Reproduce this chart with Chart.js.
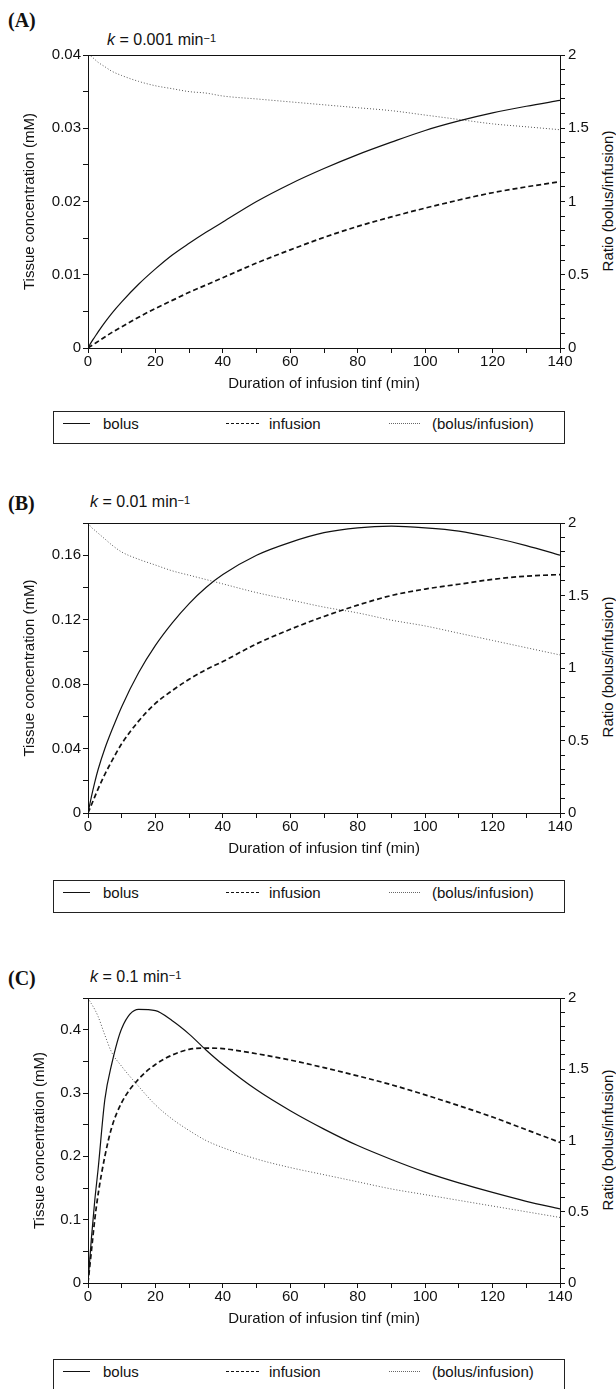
<!DOCTYPE html>
<html>
<head>
<meta charset="utf-8">
<script src="https://cdn.jsdelivr.net/npm/chart.js@4.4.1/dist/chart.umd.min.js"></script>
<style>
  body { margin: 0; background: #fff; }
  #page { position: relative; width: 616px; height: 1389px; overflow: hidden; font-family: "Liberation Sans", Arial, sans-serif; color: #111; }
  #page canvas { position: absolute; left: 0; }
  .tag { position: absolute; font-family: "Liberation Serif", serif; font-weight: bold; font-size: 20px; line-height: 20px; }
  .klabel { position: absolute; font-size: 16px; line-height: 18px; white-space: nowrap; }
  .klabel sup { font-size: 11px; position: relative; top: -2px; vertical-align: top; }
  .rtitle { position: absolute; font-size: 15px; white-space: nowrap; transform: translate(-50%, -50%) rotate(-90deg); }
  .legend { position: absolute; left: 53px; width: 512px; height: 33px; border: 1px solid #222; box-sizing: border-box; font-size: 15px; }
  .legend .s { position: absolute; top: 11px; height: 0; }
  .legend .t { position: absolute; top: 3px; line-height: 18px; }
</style>
</head>
<body>
<div id="page"></div>
<script>
// time axis (min) shared by all three panels
const timeMin = [0, 1, 2, 3, 5, 7, 10, 15, 20, 25, 30, 35, 40, 50, 60, 70, 80, 90, 100, 110, 120, 130, 140];

// (A) k = 0.001 min^-1
const bolusA    = [0, 0.0008, 0.0015, 0.0022, 0.0035, 0.0047, 0.0063, 0.0087, 0.0108, 0.0127, 0.0143, 0.0158, 0.0172, 0.0200, 0.0224, 0.0245, 0.0264, 0.0281, 0.0297, 0.0310, 0.0321, 0.0330, 0.0338];
const infusionA = [0, 0.0003, 0.0006, 0.0009, 0.0015, 0.0021, 0.0029, 0.0042, 0.0054, 0.0065, 0.0076, 0.0086, 0.0096, 0.0116, 0.0134, 0.0151, 0.0166, 0.0179, 0.0191, 0.0202, 0.0212, 0.0220, 0.0227];
const ratioA    = [2.0, 1.99, 1.97, 1.95, 1.92, 1.89, 1.86, 1.82, 1.79, 1.77, 1.75, 1.74, 1.72, 1.70, 1.68, 1.66, 1.64, 1.62, 1.59, 1.56, 1.53, 1.51, 1.49];

// (B) k = 0.01 min^-1
const bolusB    = [0, 0.010, 0.019, 0.027, 0.040, 0.051, 0.066, 0.087, 0.104, 0.118, 0.130, 0.140, 0.148, 0.160, 0.168, 0.174, 0.177, 0.178, 0.177, 0.175, 0.171, 0.166, 0.160];
const infusionB = [0, 0.005, 0.010, 0.015, 0.024, 0.032, 0.043, 0.057, 0.068, 0.076, 0.083, 0.089, 0.094, 0.105, 0.114, 0.122, 0.129, 0.135, 0.139, 0.142, 0.145, 0.147, 0.148];
const ratioB    = [2.0, 1.97, 1.95, 1.93, 1.89, 1.85, 1.80, 1.75, 1.71, 1.67, 1.64, 1.61, 1.58, 1.52, 1.47, 1.42, 1.38, 1.33, 1.29, 1.24, 1.19, 1.14, 1.09];

// (C) k = 0.1 min^-1
const bolusC    = [0, 0.07, 0.13, 0.18, 0.29, 0.345, 0.402, 0.432, 0.430, 0.414, 0.393, 0.368, 0.345, 0.305, 0.272, 0.243, 0.217, 0.195, 0.175, 0.158, 0.143, 0.129, 0.117];
const infusionC = [0, 0.05, 0.10, 0.14, 0.20, 0.245, 0.285, 0.322, 0.345, 0.360, 0.369, 0.371, 0.370, 0.362, 0.352, 0.340, 0.327, 0.313, 0.297, 0.280, 0.262, 0.242, 0.222];
const ratioC    = [2.0, 1.96, 1.92, 1.87, 1.74, 1.62, 1.52, 1.38, 1.25, 1.15, 1.07, 1.0, 0.95, 0.87, 0.81, 0.76, 0.71, 0.66, 0.62, 0.58, 0.54, 0.50, 0.46];

// tick labels
const timeTicks  = [0, 20, 40, 60, 80, 100, 120, 140];
const ratioTicks = [0, 0.5, 1, 1.5, 2];
const concTicksA = [0, 0.01, 0.02, 0.03, 0.04];
const concTicksB = [0, 0.04, 0.08, 0.12, 0.16];
const concTicksC = [0, 0.1, 0.2, 0.3, 0.4];

const panels = [
  { tag: '(A)', k: '0.001', bolus: bolusA, infusion: infusionA, ratio: ratioA, ticks: concTicksA, max: 0.04, step: 0.005,
    top: 53, bottom: 348, tagY: 10, kY: 31, kX: 107, legendY: 411, titlePad: 21 },
  { tag: '(B)', k: '0.01', bolus: bolusB, infusion: infusionB, ratio: ratioB, ticks: concTicksB, max: 0.18, step: 0.02,
    top: 521, bottom: 813, tagY: 493, kY: 493, kX: 90, legendY: 880, titlePad: 21 },
  { tag: '(C)', k: '0.1', bolus: bolusC, infusion: infusionC, ratio: ratioC, ticks: concTicksC, max: 0.45, step: 0.05,
    top: 996, bottom: 1283, tagY: 968, kY: 968, kX: 90, legendY: 1359, titlePad: 31 }
];

const PLOT_LEFT = 88, PLOT_RIGHT = 560, PAD_TOP = 10, X_AXIS_H = 52;
const ink = '#111';
const page = document.getElementById('page');

const frame = {
  id: 'frame',
  afterDatasetsDraw(chart) {
    const { ctx, chartArea: a } = chart;
    ctx.save();
    ctx.strokeStyle = ink;
    ctx.lineWidth = 1;
    ctx.strokeRect(Math.round(a.left) + 0.5, Math.round(a.top) + 0.5, Math.round(a.right - a.left), Math.round(a.bottom - a.top));
    ctx.restore();
  }
};

const pick = (list) => (v) => {
  const hit = list.find(t => Math.abs(t - v) < 1e-9);
  return hit === undefined ? '' : String(hit);
};
const pts = (ys) => timeMin.map((t, i) => ({ x: t, y: ys[i] }));

function addEl(cls, html, style) {
  const el = document.createElement('div');
  el.className = cls;
  el.innerHTML = html;
  Object.assign(el.style, style);
  page.appendChild(el);
  return el;
}

panels.forEach(p => {
  addEl('tag', p.tag, { left: '8px', top: p.tagY + 'px' });
  addEl('klabel', '<i>k</i> = ' + p.k + ' min<sup>\u22121</sup>', { left: p.kX + 'px', top: p.kY + 'px' });
  addEl('rtitle', 'Ratio (bolus/infusion)', { left: '607px', top: ((p.top + p.bottom) / 2) + 'px' });
  addEl('legend',
    '<div class="s" style="left:9px;width:27px;border-top:1px solid #111"></div><div class="t" style="left:49px">bolus</div>' +
    '<div class="s" style="left:172px;width:33px;border-top:1.5px dashed #111"></div><div class="t" style="left:215px">infusion</div>' +
    '<div class="s" style="left:335px;width:31px;border-top:1px dotted #666"></div><div class="t" style="left:378px">(bolus/infusion)</div>',
    { top: p.legendY + 'px' });

  const canvas = document.createElement('canvas');
  const h = (p.bottom - p.top) + PAD_TOP + X_AXIS_H;
  canvas.width = 616; canvas.height = h;
  canvas.style.top = (p.top - PAD_TOP) + 'px';
  canvas.style.width = '616px'; canvas.style.height = h + 'px';
  page.appendChild(canvas);

  const tickFont = { family: '"Liberation Sans", Arial, sans-serif', size: 15 };
  const grid = { drawOnChartArea: false, drawTicks: true, tickLength: 5, color: ink, lineWidth: 1 };

  new Chart(canvas, {
    type: 'line',
    data: {
      datasets: [
        { label: 'bolus', data: pts(p.bolus), yAxisID: 'y', borderColor: ink, borderWidth: 1.2,
          pointRadius: 0, cubicInterpolationMode: 'monotone' },
        { label: 'infusion', data: pts(p.infusion), yAxisID: 'y', borderColor: ink, borderWidth: 1.7,
          borderDash: [5, 3], pointRadius: 0, cubicInterpolationMode: 'monotone' },
        { label: '(bolus/infusion)', data: pts(p.ratio), yAxisID: 'y2', borderColor: '#555', borderWidth: 1,
          borderDash: [1, 2], pointRadius: 0, cubicInterpolationMode: 'monotone' }
      ]
    },
    options: {
      responsive: false, animation: false, events: [],
      layout: { padding: { top: PAD_TOP, left: 0, right: 0, bottom: 0 } },
      plugins: { legend: { display: false }, tooltip: { enabled: false } },
      scales: {
        x: {
          type: 'linear', min: 0, max: 140,
          afterFit: s => { s.height = X_AXIS_H; },
          ticks: { stepSize: 10, autoSkip: false, maxRotation: 0, padding: 0, color: ink, font: tickFont, callback: pick(timeTicks) },
          grid, border: { display: false },
          title: { display: true, text: 'Duration of infusion tinf (min)', color: ink, font: tickFont, padding: { top: 0, bottom: 7 } }
        },
        y: {
          position: 'left', min: 0, max: p.max,
          afterFit: s => { s.width = PLOT_LEFT; },
          ticks: { stepSize: p.step, autoSkip: false, padding: 2, color: ink, font: tickFont, callback: pick(p.ticks) },
          grid, border: { display: false },
          title: { display: true, text: 'Tissue concentration (mM)', color: ink, font: tickFont, padding: { top: p.titlePad, bottom: 0 } }
        },
        y2: {
          position: 'right', min: 0, max: 2,
          afterFit: s => { s.width = 616 - PLOT_RIGHT; },
          ticks: { stepSize: 0.1, autoSkip: false, padding: 3, color: ink, font: tickFont, callback: pick(ratioTicks) },
          grid, border: { display: false }
        }
      }
    },
    plugins: [frame]
  });
});
</script>
</body>
</html>
